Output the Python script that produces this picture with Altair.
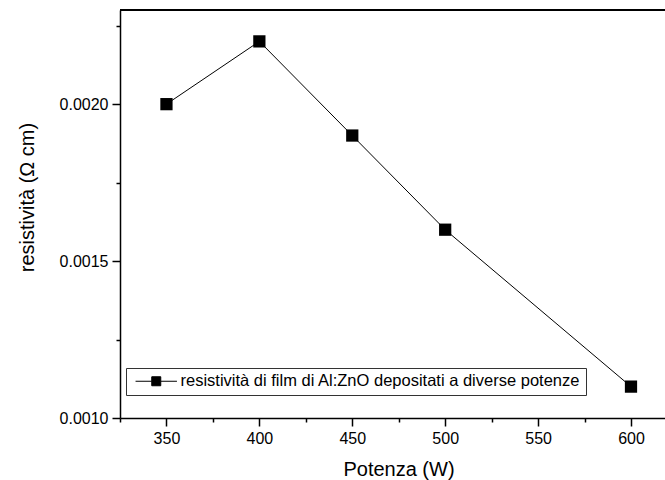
import altair as alt
import pandas as pd

# ---- data ----
potenza = [350, 400, 450, 500, 600]
resistivita = [0.0020, 0.0022, 0.0019, 0.0016, 0.0011]
serie_name = "resistività di film di Al:ZnO depositati a diverse potenze"

x_major = [350, 400, 450, 500, 550, 600]
x_minor = [325, 375, 425, 475, 525, 575]
y_major = [0.0010, 0.0015, 0.0020]
y_minor = [0.00125, 0.00175, 0.00225]
x_domain = [325, 618.3]
y_domain = [0.0010, 0.0023]

df = pd.DataFrame({
    "Potenza": potenza,
    "resistivita": resistivita,
    "serie": [serie_name] * len(potenza),
})

FONT = "Liberation Sans"
xs = alt.Scale(domain=x_domain, nice=False, zero=False)
ys = alt.Scale(domain=y_domain, nice=False, zero=False)

axis_common = dict(grid=False, domainColor="black", tickColor="black",
                   domainWidth=1.5, tickWidth=1.5, labelColor="black",
                   labelFont=FONT, labelFontSize=16, titleFont=FONT,
                   titleFontSize=20, titleFontWeight="normal", titleColor="black")

x_main_axis = alt.Axis(values=x_major, title="Potenza (W)", orient="bottom",
                       tickSize=8, labelPadding=4, titlePadding=13, titleX=278.5,
                       **axis_common)
y_main_axis = alt.Axis(values=y_major, format=".4f", title="resistività (Ω cm)",
                       orient="left", tickSize=8, labelPadding=4, titlePadding=22,
                       titleY=187, **axis_common)

x_minor_axis = alt.Axis(values=x_minor, title=None, orient="bottom", labels=False,
                        domain=False, tickSize=4, grid=False, tickColor="black",
                        tickWidth=1.5)
y_minor_axis = alt.Axis(values=y_minor, title=None, orient="left", labels=False,
                        domain=False, tickSize=4, grid=False, tickColor="black",
                        tickWidth=1.5)

legend_path = "M -4.6 0 L -1 0 M 1 0 L 4.6 0 M -1 -1 L 1 -1 L 1 1 L -1 1 Z"

line = alt.Chart(df).mark_line(color="black", strokeWidth=1).encode(
    x=alt.X("Potenza:Q", scale=xs, axis=x_main_axis),
    y=alt.Y("resistivita:Q", scale=ys, axis=y_main_axis),
)

points = alt.Chart(df).mark_point(shape="square", size=150, filled=True, opacity=1).encode(
    x=alt.X("Potenza:Q", scale=xs, axis=None),
    y=alt.Y("resistivita:Q", scale=ys, axis=None),
    color=alt.Color("serie:N", scale=alt.Scale(range=["black"]),
                    legend=alt.Legend(title=None, orient="none", legendX=6, legendY=358,
                                      symbolType=legend_path, symbolSize=81,
                                      symbolFillColor="black", symbolStrokeColor="black",
                                      symbolStrokeWidth=1, symbolOffset=17,
                                      labelOffset=16, labelFontSize=16.5, labelFont=FONT,
                                      labelColor="black", labelLimit=0, padding=5,
                                      strokeColor="#333", fillColor="white",
                                      cornerRadius=0)),
)

minor = alt.Chart(df).mark_point(opacity=0).encode(
    x=alt.X("Potenza:Q", scale=xs, axis=x_minor_axis),
    y=alt.Y("resistivita:Q", scale=ys, axis=y_minor_axis),
)

top_line = alt.Chart(df).mark_rule(color="black", strokeWidth=1.5).encode(
    y=alt.YDatum(y_domain[1], axis=None),
)

chart = alt.layer(line, points, minor, top_line).resolve_axis(
    x="independent", y="independent"
).properties(
    width=545, height=408,
    padding={"left": 120, "top": 10, "right": 0, "bottom": 62},
    autosize="none",
).configure(font=FONT).configure_view(stroke=None)

chart.save("out.html", embed_options={"renderer": "svg", "actions": False})
